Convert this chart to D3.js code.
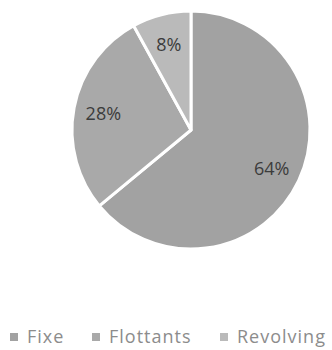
<!DOCTYPE html>
<html><head><meta charset="utf-8">
<script src="https://cdn.jsdelivr.net/npm/d3@7"></script>
<style>body{margin:0;background:#fff;}</style>
</head><body>
<svg id="c" width="332" height="350"></svg>
<script>
const categories = ["Fixe", "Flottants", "Revolving"];
const values = [64, 28, 8];
const colors = ["#a2a2a2", "#a9a9a9", "#bababa"];

const svg = d3.select("#c");
const cx = 191, cy = 130, r = 119;
const g = svg.append("g").attr("transform", `translate(${cx},${cy})`);
const pie = d3.pie().sort(null).value(d => d)(values);
const arc = d3.arc().innerRadius(0).outerRadius(r);
const labelArc = d3.arc().innerRadius(r*0.75).outerRadius(r*0.75);

g.selectAll("path").data(pie).enter().append("path")
  .attr("d", arc).attr("fill", (d,i) => colors[i])
  .attr("stroke", "#fff").attr("stroke-width", 3).attr("stroke-linejoin", "round");

g.selectAll("text").data(pie).enter().append("text")
  .attr("transform", d => `translate(${labelArc.centroid(d)})`)
  .attr("text-anchor", "middle").attr("dominant-baseline", "central")
  .attr("font-family", "Open Sans, sans-serif").attr("font-size", 18)
  .attr("fill", "#3c3c3c")
  .text(d => d.value + "%");

const legendX = [10, 92, 220];
const lg = svg.append("g");
categories.forEach((c, i) => {
  lg.append("rect").attr("x", legendX[i]).attr("y", 333).attr("width", 8).attr("height", 8).attr("fill", colors[i]);
  lg.append("text").attr("x", legendX[i] + 17).attr("y", 343)
    .attr("font-family", "Open Sans, sans-serif").attr("font-size", 18)
    .attr("letter-spacing", 1)
    .attr("fill", "#8c8c8c").text(c);
});
</script>
</body></html>
